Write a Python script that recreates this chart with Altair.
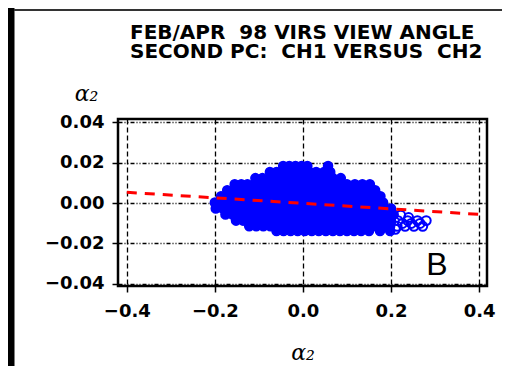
import altair as alt
import pandas as pd

# Scatter, row by row (y value of the row, then x values)
ROW_Y = [0.0183, 0.0153, 0.0123, 0.0093, 0.0063, 0.0033, 0.0003,
         -0.0027, -0.0057, -0.0087, -0.0115, -0.0138]
ROW1_X = [-0.045, -0.031, -0.017, -0.003, 0.010, 0.057]
ROW2_X = [-0.075, -0.060, -0.045, -0.030, -0.015, 0.000, 0.015, 0.030, 0.048, 0.062]
ROW3_X = [-0.108, -0.092, -0.076, -0.060, -0.044, -0.028, -0.012, 0.004, 0.020,
          0.036, 0.052, 0.068, 0.086]
ROW4_X = [-0.155, -0.140, -0.126, -0.110, -0.094, -0.078, -0.062, -0.046, -0.030,
          -0.014, 0.002, 0.018, 0.034, 0.050, 0.066, 0.084, 0.100, 0.118, 0.135, 0.152]
ROW5_X = [-0.172, -0.156, -0.140, -0.124, -0.108, -0.092, -0.076, -0.060, -0.044,
          -0.028, -0.012, 0.004, 0.020, 0.036, 0.052, 0.068, 0.084, 0.100, 0.116,
          0.132, 0.148, 0.164]
ROW6_X = [-0.186, -0.170, -0.154, -0.138, -0.122, -0.106, -0.090, -0.074, -0.058,
          -0.042, -0.026, -0.010, 0.006, 0.022, 0.038, 0.054, 0.070, 0.086, 0.102,
          0.118, 0.134, 0.150, 0.166, 0.176]
ROW7_X = [-0.200, -0.184, -0.168, -0.152, -0.136, -0.120, -0.104, -0.088, -0.072,
          -0.056, -0.040, -0.024, -0.008, 0.008, 0.024, 0.040, 0.056, 0.072, 0.088,
          0.104, 0.120, 0.136, 0.152, 0.168, 0.182]
ROW8_X = [-0.198, -0.182, -0.166, -0.150, -0.134, -0.118, -0.102, -0.086, -0.070,
          -0.054, -0.038, -0.022, -0.006, 0.010, 0.026, 0.042, 0.058, 0.074, 0.090,
          0.106, 0.122, 0.138, 0.154, 0.170, 0.186, 0.200]
ROW9_X = [-0.176, -0.160, -0.144, -0.128, -0.112, -0.096, -0.080, -0.064, -0.048,
          -0.032, -0.016, 0.000, 0.016, 0.032, 0.048, 0.064, 0.080, 0.096, 0.112,
          0.128, 0.144, 0.160, 0.176, 0.192, 0.206]
ROW10_X = [-0.152, -0.136, -0.120, -0.104, -0.088, -0.072, -0.056, -0.040, -0.024,
           -0.008, 0.008, 0.024, 0.040, 0.056, 0.072, 0.088, 0.104, 0.120, 0.136,
           0.152, 0.168, 0.184, 0.200]
ROW11_X = [-0.122, -0.106, -0.090, -0.074, -0.058, -0.042, -0.026, -0.010, 0.006,
           0.022, 0.038, 0.054, 0.070, 0.086, 0.102, 0.118, 0.134, 0.150, 0.166,
           0.182, 0.198]
ROW12_X = [-0.060, -0.044, -0.028, -0.012, 0.004, 0.020, 0.036, 0.052, 0.068,
           0.084, 0.100, 0.116, 0.132, 0.150, 0.175, 0.198]
ROWS_X = [ROW1_X, ROW2_X, ROW3_X, ROW4_X, ROW5_X, ROW6_X, ROW7_X, ROW8_X,
          ROW9_X, ROW10_X, ROW11_X, ROW12_X]

# sparse right-hand tail, where single open circles are visible
TAIL_X = [0.216, 0.238, 0.260, 0.280, 0.214, 0.232, 0.252, 0.272, 0.222,
          0.226, 0.246, 0.266, 0.210, 0.240]
TAIL_Y = [-0.0087, -0.0087, -0.0087, -0.0087, -0.0115, -0.0115, -0.0115,
          -0.0115, -0.0060, -0.0101, -0.0101, -0.0101, -0.0130, -0.0072]

FIT_X = [-0.40, 0.40]
FIT_Y = [0.0053, -0.0056]

X_TICKS = [-0.4, -0.2, 0.0, 0.2, 0.4]
Y_TICKS = [-0.04, -0.02, 0.0, 0.02, 0.04]
NB = "\u00a0"
TITLE_LINES = ["FEB/APR" + NB + NB + "98 VIRS VIEW ANGLE",
               "SECOND PC:" + NB + NB + "CH1 VERSUS" + NB + NB + "CH2"]
PANEL_LABEL = "B"
PANEL_X = [0.3045]
PANEL_Y = [-0.0306]

pts = pd.DataFrame(
    [{"x": x, "y": y} for y, xs in zip(ROW_Y, ROWS_X) for x in xs]
)
tail = pd.DataFrame({"x": TAIL_X, "y": TAIL_Y})
fit = pd.DataFrame({"x": FIT_X, "y": FIT_Y})
lab = pd.DataFrame({"x": PANEL_X, "y": PANEL_Y, "t": [PANEL_LABEL]})

FONT = "DejaVu Sans"
BLUE = "#0000ff"
xscale = alt.Scale(domain=[-0.42, 0.418], nice=False, zero=False)
yscale = alt.Scale(domain=[-0.041, 0.0415], nice=False, zero=False)

xaxis = alt.Axis(values=X_TICKS, format=".1f", title="α₂",
                 grid=True, gridColor="black", gridDash=[5, 3], gridWidth=1.3,
                 gridOpacity=1, domain=False, ticks=True, tickSize=6,
                 tickColor="black", tickWidth=1.5,
                 labelFont=FONT, labelFontWeight="bold", labelFontSize=18,
                 labelColor="black", labelPadding=10,
                 titleFont="DejaVu Serif", titleFontStyle="italic",
                 titleFontWeight="normal", titleFontSize=22, titleColor="black",
                 titleY=73, titleBaseline="alphabetic")
yaxis = alt.Axis(values=Y_TICKS, format=".2f", title="α₂",
                 grid=True, gridColor="black", gridDash=[4, 2, 1, 2, 1, 2],
                 gridWidth=1.3, gridOpacity=1, domain=False, ticks=True,
                 tickSize=6, tickColor="black", tickWidth=1.5,
                 labelFont=FONT, labelFontWeight="bold", labelFontSize=18,
                 labelColor="black", labelPadding=8,
                 titleFont="DejaVu Serif", titleFontStyle="italic",
                 titleFontWeight="normal", titleFontSize=22, titleColor="black",
                 titleAngle=0, titleX=-32, titleY=-19, titleAlign="center",
                 titleBaseline="alphabetic")

points = alt.Chart(pts).mark_point(
    shape="circle", filled=True, fill=BLUE, stroke=BLUE, size=80,
    strokeWidth=1.6, opacity=1
).encode(x=alt.X("x:Q", scale=xscale, axis=xaxis),
         y=alt.Y("y:Q", scale=yscale, axis=yaxis))

tail_pts = alt.Chart(tail).mark_point(
    shape="circle", filled=False, color=BLUE, size=80, strokeWidth=2,
    opacity=1
).encode(x="x:Q", y="y:Q")

line = alt.Chart(fit).mark_line(
    color="#ff0000", strokeDash=[10, 8], strokeWidth=3
).encode(x="x:Q", y="y:Q")

text = alt.Chart(lab).mark_text(
    font="Liberation Sans", fontSize=32, color="black", baseline="middle",
    align="center"
).encode(x="x:Q", y="y:Q", text="t:N")

deco = pd.DataFrame({"k": [0]})
left_bar = alt.Chart(deco).mark_rule(color="black", strokeWidth=7).encode(
    x=alt.value(-107), y=alt.value(-111), y2=alt.value(247))
top_bar = alt.Chart(deco).mark_rule(color="#333333", strokeWidth=2).encode(
    x=alt.value(-104), x2=alt.value(384), y=alt.value(-109))
title_block = alt.Chart(deco).mark_text(
    align="left", baseline="alphabetic", font=FONT, fontWeight="bold",
    fontSize=20, color="black", lineBreak="\n", lineHeight=19
).encode(x=alt.value(12), y=alt.value(-80),
         text=alt.value("\n".join(TITLE_LINES)))

chart = alt.layer(left_bar, top_bar, title_block, points, tail_pts, line,
                  text).properties(
    width=369, height=167,
    autosize=alt.AutoSizeParams(type="none"),
    padding={"left": 110, "top": 111, "right": 15, "bottom": 80},
    background="white",
).configure_view(stroke="black", strokeWidth=2.5)

chart.save("out.html", embed_options={"renderer": "svg", "actions": False})
